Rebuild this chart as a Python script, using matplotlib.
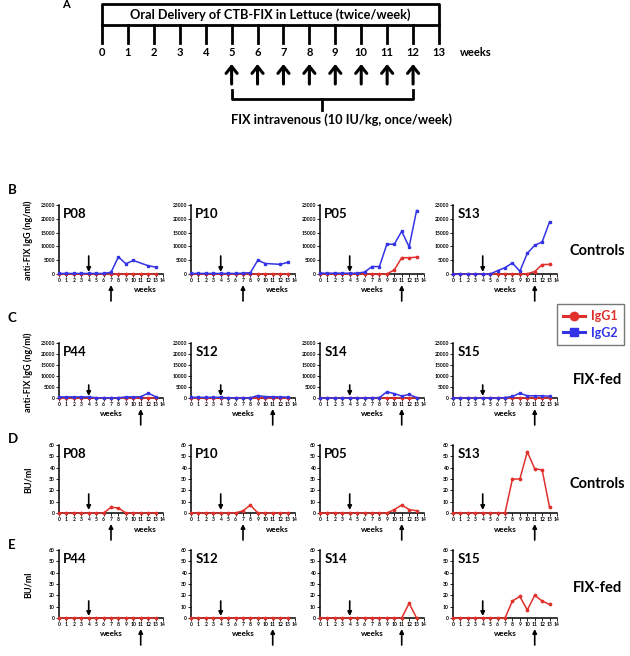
import numpy as np
import matplotlib
matplotlib.use('Agg')
import matplotlib.pyplot as plt
from matplotlib.lines import Line2D

plt.rcParams['font.family'] = ['Lato', 'DejaVu Sans']
plt.rcParams['font.weight'] = 'bold'

# ==================================================================
# data

W, H = 630, 656
weeks = list(range(14))
timeline_weeks = list(range(14))
iv_weeks = list(range(5, 13))

names_ctrl = ['P08', 'P10', 'P05', 'S13']
names_fed = ['P44', 'S12', 'S14', 'S15']

# B: anti-FIX IgG, controls (ng/ml)
igg2_ctrl = [
    [200, 200, 200, 200, 200, 200, 200, 600, 6200, 3700, 4900, None, 3000, 2500],
    [200, 200, 200, 200, 200, 200, 200, 300, 500, 5000, 3800, None, 3500, 4200],
    [300, 300, 300, 300, 300, 300, 700, 2700, 2700, 10800, 10800, 15500, 9800, 23000],
    [0, 0, 0, 0, 0, 0, 1200, 2300, 4000, 1000, 7500, 10400, 11600, 18900],
]
igg1_ctrl = [
    [150] * 14,
    [150] * 14,
    [0, 0, 0, 0, 0, 0, 0, 0, 0, 0, 1500, 5900, 5900, 6100],
    [0, 0, 0, 0, 0, 0, 0, 0, 0, 0, 100, 900, 3400, 3500],
]

# C: anti-FIX IgG, FIX-fed (ng/ml)
igg2_fed = [
    [500, 500, 500, 500, 500, 100, 100, 100, 100, 500, 500, 600, 2200, 600],
    [300, 300, 300, 300, 300, 100, 100, 100, 100, 1100, 600, 600, 500, 400],
    [0, 0, 0, 0, 0, 0, 0, 100, 200, 2800, 2000, 900, 1600, 200],
    [0, 0, 0, 0, 0, 0, 0, 200, 700, 2200, 1000, 1000, 1000, 800],
]
igg1_fed = [[100] * 14, [100] * 14, [80] * 14, [80] * 14]

# D / E: inhibitor titers (BU/ml)
bu_ctrl = [
    [0, 0, 0, 0, 0, 0, 0, 5, 4.5, 0, 0, 0, 0, 0],
    [0, 0, 0, 0, 0, 0, 0, 2, 7, 0, 0, 0, 0, 0],
    [0, 0, 0, 0, 0, 0, 0, 0, 0, 0, 3, 7, 3, 2],
    [0, 0, 0, 0, 0, 0, 0, 0, 30, 30, 54, 39, 38, 5],
]
bu_fed = [
    [0] * 14,
    [0] * 14,
    [0, 0, 0, 0, 0, 0, 0, 0, 0, 0, 0, 0, 13, 0],
    [0, 0, 0, 0, 0, 0, 0, 0, 15, 19, 7, 20, 15, 12],
]

up_ctrl = [7, 7, 11, 11]
up_fed = [11, 11, 11, 11]
down_week = 4

igg_ticks = [0, 5000, 10000, 15000, 20000, 25000]
bu_ticks = [0, 10, 20, 30, 40, 50, 60]

RED = '#e0302c'
BLUE = '#3434e6'

# ==================================================================

fig = plt.figure(figsize=(W / 100, H / 100), dpi=100)


def px_axes(left, top, width, height):
    return fig.add_axes([left / W, 1 - (top + height) / H, width / W, height / H])


def draw_timeline():
    """
    panel A
    """
    ax = px_axes(102, 0, 337, 130)
    ax.set_xlim(0, 13)
    ax.set_ylim(130, 0)
    ax.axis('off')
    ax.plot([0, 13, 13, 0, 0], [25, 25, 4, 4, 25], color='k', lw=2, clip_on=False)
    for w in timeline_weeks:
        ax.plot([w, w], [25, 43], color='k', lw=2, clip_on=False)
        ax.text(w, 53, str(w), ha='center', va='center', fontsize=8)
    ax.text(14.4, 53, 'weeks', ha='center', va='center', fontsize=8)
    ax.text(6.5, 15, 'Oral Delivery of CTB-FIX in Lettuce (twice/week)',
            ha='center', va='center', fontsize=9.2)
    for w in iv_weeks:
        ax.annotate('', xy=(w, 64), xytext=(w, 84),
                    arrowprops=dict(arrowstyle='->,head_width=0.4,head_length=0.5',
                                    lw=2.2, color='k', shrinkA=0, shrinkB=0))
    ax.plot([iv_weeks[0], iv_weeks[0], iv_weeks[-1], iv_weeks[-1]], [90, 99, 99, 90],
            color='k', lw=2, clip_on=False)
    mid = (iv_weeks[0] + iv_weeks[-1]) / 2
    ax.plot([mid, mid], [99, 110], color='k', lw=2, clip_on=False)
    ax.text(9.25, 120, 'FIX intravenous (10 IU/kg, once/week)',
            ha='center', va='center', fontsize=9.2)
    fig.text(62 / W, 1 - 4 / H, 'A', fontsize=8, ha='left', va='center')


def draw_panel(ax, name, red, blue, ticks, up_week, tail, tip):
    x = np.array(weeks, dtype=float)
    for vals, col, mk in [(red, RED, 'o'), (blue, BLUE, 's')]:
        if vals is None:
            continue
        v = np.array([np.nan if a is None else a for a in vals], dtype=float)
        ok = ~np.isnan(v)
        ax.plot(x[ok], v[ok], color=col, marker=mk, markersize=1.7, lw=1.1,
                clip_on=False, zorder=3)
    ax.set_xlim(0, 14)
    ax.set_ylim(0, ticks[-1])
    ax.set_xticks(range(15))
    ax.set_yticks(ticks)
    ax.tick_params(labelsize=3.6, length=2, width=0.6, pad=1)
    for s in ['top', 'right']:
        ax.spines[s].set_visible(False)
    for s in ['left', 'bottom']:
        ax.spines[s].set_linewidth(1.1)
    ax.text(0.04, 0.95, name, transform=ax.transAxes, ha='left', va='top', fontsize=9.5)
    arrow = dict(arrowstyle='-|>', mutation_scale=6, lw=1.2, color='k',
                 shrinkA=0, shrinkB=0)
    # down arrow (start of feeding window)
    ax.annotate('', xy=(down_week, tip), xycoords=('data', 'axes pixels'),
                xytext=(down_week, tail), textcoords=('data', 'axes pixels'),
                arrowprops=arrow)
    # up arrow below axis
    ax.annotate('', xy=(up_week, -11), xycoords=('data', 'axes pixels'),
                xytext=(up_week, -27), textcoords=('data', 'axes pixels'),
                arrowprops=arrow, annotation_clip=False)
    wx = 0.83 if up_week < 10 else 0.5
    ax.annotate('weeks', xy=(wx, 0), xycoords='axes fraction', xytext=(0, -16),
                textcoords='offset pixels', ha='center', va='center', fontsize=5.8)


lefts = [59, 191, 320, 453]
width = 104

draw_timeline()

rows = [
    (205, 69, names_ctrl, igg1_ctrl, igg2_ctrl, igg_ticks, up_ctrl, 18, 2),
    (343, 55, names_fed, igg1_fed, igg2_fed, igg_ticks, up_fed, 13, 2),
    (445, 68, names_ctrl, bu_ctrl, None, bu_ticks, up_ctrl, 19, 3),
    (550, 68, names_fed, bu_fed, None, bu_ticks, up_fed, 17, 2),
]

for top, h, names, reds, blues, ticks, ups, tail, tip in rows:
    for i in range(4):
        ax = px_axes(lefts[i], top, width, h)
        draw_panel(ax, names[i], reds[i], None if blues is None else blues[i],
                   ticks, ups[i], tail, tip)

# row letters and y labels
for letter, y in [('B', 190), ('C', 318), ('D', 439), ('E', 545)]:
    fig.text(8 / W, 1 - y / H, letter, fontsize=9.5, ha='left', va='center')
for lab, yc in [('anti-FIX IgG (ng/ml)', 240), ('anti-FIX IgG (ng/ml)', 372),
                ('BU/ml', 480), ('BU/ml', 585)]:
    fig.text(28 / W, 1 - yc / H, lab, rotation=90, fontsize=6.5, ha='center', va='center')

for lab, yc in [('Controls', 251), ('FIX-fed', 380), ('Controls', 484), ('FIX-fed', 588)]:
    fig.text(597 / W, 1 - yc / H, lab, fontsize=10.5, ha='center', va='center')

handles = [Line2D([], [], color=RED, marker='o', markersize=6, lw=2.2),
           Line2D([], [], color=BLUE, marker='s', markersize=6, lw=2.2)]
fig.legend(handles, ['IgG1', 'IgG2'], loc='upper left',
           bbox_to_anchor=(557 / W, 1 - 304 / H), frameon=True, fancybox=False,
           edgecolor='#555555', fontsize=9, labelcolor='linecolor',
           handlelength=1.7, handletextpad=0.5, borderpad=0.5, labelspacing=0.35,
           borderaxespad=0)

plt.savefig('out.png', dpi=100)
